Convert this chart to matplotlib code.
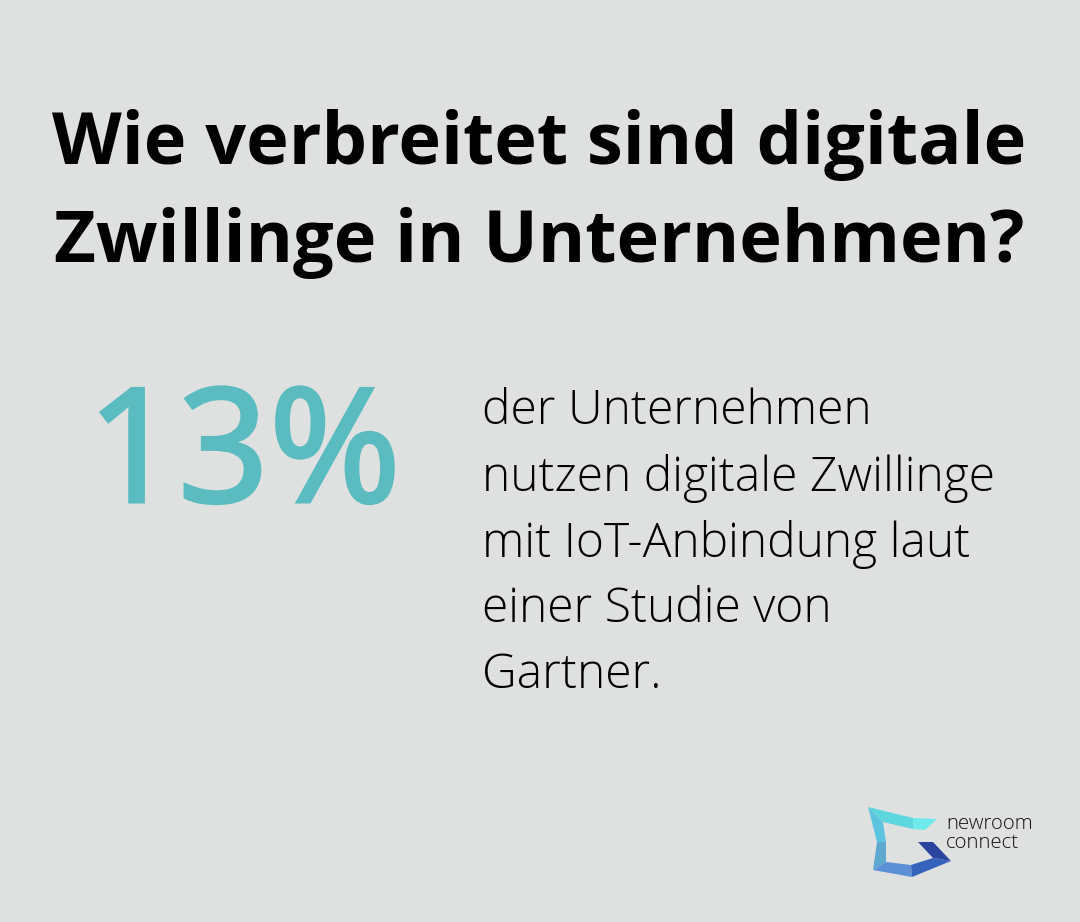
import matplotlib
matplotlib.use('Agg')
import matplotlib.pyplot as plt
import matplotlib.patheffects as pe
from matplotlib.patches import Polygon

title_lines = ['Wie verbreitet sind digitale', 'Zwillinge in Unternehmen?']
big_number = '13%'
body_lines = ['der Unternehmen', 'nutzen digitale Zwillinge', 'mit IoT-Anbindung laut', 'einer Studie von', 'Gartner.']
brand_lines = ['newroom', 'connect']

bg = '#dfe1e0'
teal = '#5abcc0'

fig = plt.figure(figsize=(10.8, 9.22), dpi=100, facecolor=bg)
ax = fig.add_axes([0, 0, 1, 1])
ax.set_xlim(0, 1080)
ax.set_ylim(922, 0)
ax.axis('off')

# titel
for y, line in zip([145, 243], title_lines):
    ax.text(539, y, line, fontsize=51.9, fontweight='bold', family='Open Sans', color='black', ha='center', va='center')

# Noto Sans bold comes out about as heavy as the regular cut in the original
big = ax.text(244, 502, big_number, fontsize=114.5, fontweight='bold', family='Noto Sans', color=teal, ha='center', va='baseline')
big.set_path_effects([pe.withStroke(linewidth=2.2, foreground=teal, joinstyle='miter')])

for y, line in zip([412, 478, 544, 610, 676], body_lines):
    ax.text(482, y, line, fontsize=34.6, fontweight='light', family='Open Sans', color='black', ha='left', va='center')

# logo
logo_parts = [
    ([(868, 807), (913, 818), (913, 829), (883, 822)], '#5dd6de'),
    ([(913, 818), (937, 819), (925, 830), (913, 829)], '#6eeaec'),
    ([(868, 807), (883, 822), (886, 842), (877, 842)], '#5cc4de'),
    ([(877, 842), (886, 842), (886, 862), (873, 870)], '#5fa8d0'),
    ([(886, 862), (911, 865), (912, 877), (873, 870)], '#5b8fd6'),
    ([(911, 865), (933, 858), (951, 861), (912, 877)], '#3563bb'),
    ([(918, 842), (933, 842), (951, 861), (933, 858)], '#2b459f'),
]
for pts, col in logo_parts:
    ax.add_patch(Polygon(pts, color=col, lw=0))

for y, line in zip([824, 843], brand_lines):
    ax.text(946, y, line, fontsize=14.7, fontweight='light', family='Open Sans', color='#111111', ha='left', va='center')

fig.savefig('out.png', dpi=100, facecolor=bg)
